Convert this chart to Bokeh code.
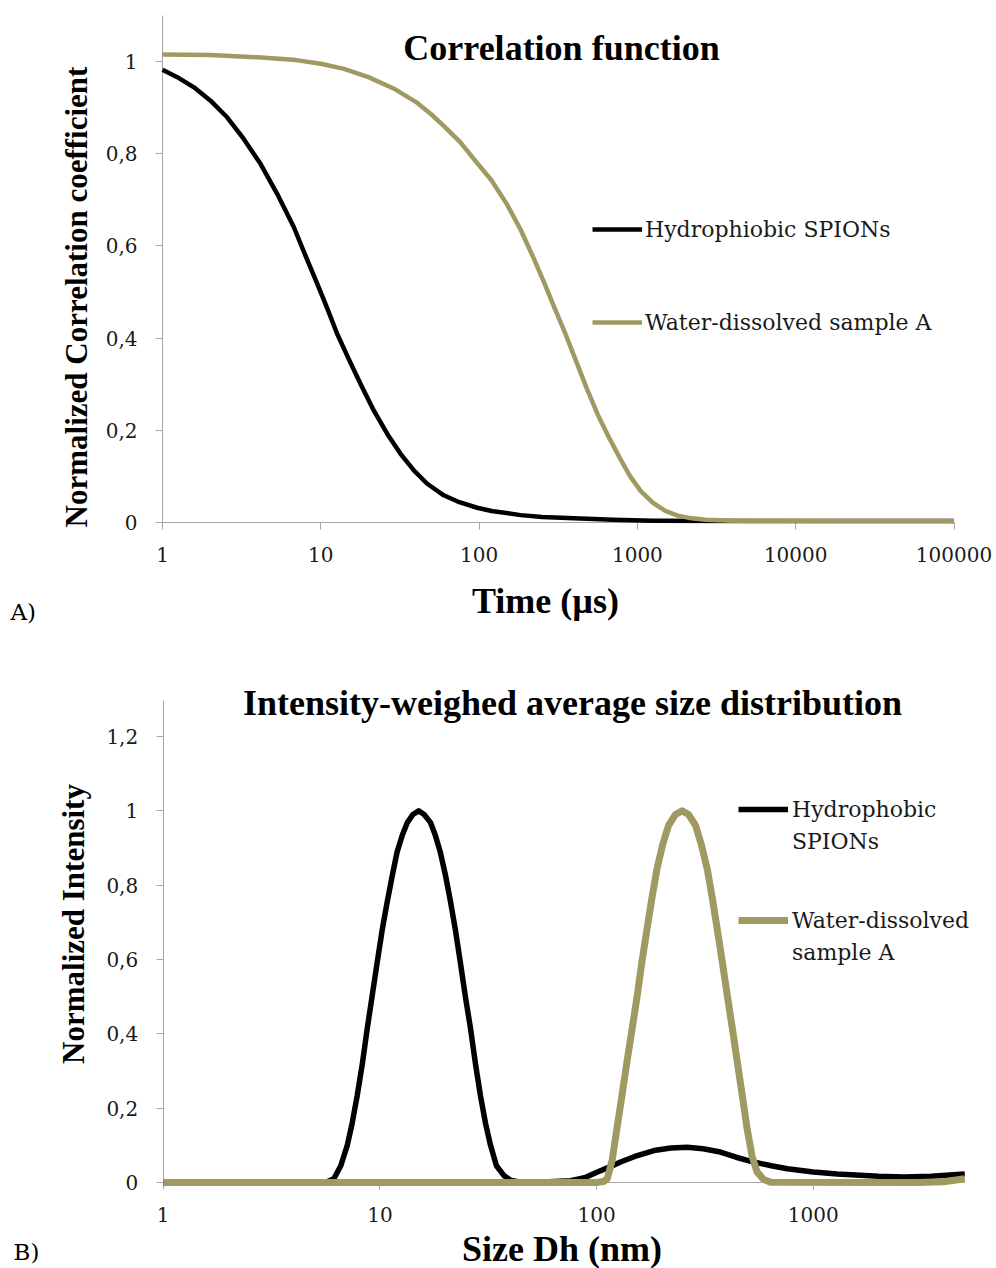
import math
from bokeh.plotting import figure
from bokeh.layouts import column
from bokeh.models import (Label, Legend, LegendItem, FixedTicker, NumeralTickFormatter,
                          CustomJSTickFormatter, Range1d, LogAxis, LinearAxis)
from bokeh.embed import file_html
from bokeh.resources import INLINE

# ---------------- data ----------------
# Panel A: correlation function
time_hydrophobic = [1, 1.24, 1.58, 2.01, 2.56, 3.26, 4.16, 5.3, 6.75, 8.0, 9.49, 11, 12.7, 15,
                    17.8, 21.6, 26.3, 31.9, 38.7, 47, 59.8, 75, 97.3, 120, 183, 250, 480, 700,
                    1260, 5000, 100000]
corr_hydrophobic = [0.982, 0.966, 0.944, 0.915, 0.879, 0.832, 0.778, 0.713, 0.641, 0.579, 0.518,
                    0.464, 0.409, 0.355, 0.301, 0.243, 0.192, 0.149, 0.113, 0.084, 0.059, 0.044,
                    0.032, 0.025, 0.016, 0.012, 0.008, 0.006, 0.004, 0.003, 0.003]
time_water = [1, 2, 4, 7, 10, 14, 20, 29, 40, 50, 60, 76, 97, 120, 150, 183, 220, 260, 300,
              350, 410, 480, 560, 660, 780, 900, 1050, 1250, 1500, 1800, 2200, 2700, 4000, 100000]
corr_water = [1.015, 1.014, 1.009, 1.003, 0.995, 0.984, 0.966, 0.941, 0.912, 0.885, 0.86, 0.825,
              0.78, 0.742, 0.69, 0.635, 0.575, 0.517, 0.465, 0.41, 0.35, 0.29, 0.235, 0.185,
              0.138, 0.10, 0.068, 0.043, 0.025, 0.015, 0.009, 0.006, 0.004, 0.003]
time_ticks = [1, 10, 100, 1000, 10000, 100000]
corr_ticks = [0, 0.2, 0.4, 0.6, 0.8, 1.0]
corr_axis_top = 1.1

# Panel B: intensity-weighted size distribution
size_hydrophobic = [1, 5.6, 6.13, 6.6, 7.07, 7.45, 7.86, 8.3, 8.74, 9.2, 9.72, 10.25, 10.8, 11.4,
                    12.0, 12.7, 13.4, 14.2, 15.1, 16.0, 17.1, 18.0, 19.0, 20.1, 21.2, 22.3, 23.5,
                    24.8, 26.2, 27.6, 29.1, 30.7, 32.4, 34.5, 37.3, 40, 44.5, 60, 75.9, 88, 101,
                    115, 129, 150, 184, 220, 262, 310, 373, 440, 531, 640, 758, 1000, 1290, 2000,
                    2620, 3500, 5000]
int_hydrophobic = [0, 0, 0.01, 0.045, 0.10, 0.16, 0.234, 0.32, 0.414, 0.50, 0.593, 0.68, 0.754,
                   0.825, 0.889, 0.935, 0.969, 0.99, 1.0, 0.99, 0.969, 0.935, 0.889, 0.825, 0.754,
                   0.68, 0.593, 0.50, 0.414, 0.32, 0.234, 0.16, 0.10, 0.045, 0.019, 0.006, 0.001,
                   0.002, 0.005, 0.013, 0.028, 0.042, 0.055, 0.07, 0.086, 0.093, 0.095, 0.091,
                   0.082, 0.068, 0.055, 0.045, 0.037, 0.028, 0.023, 0.017, 0.015, 0.017, 0.023]
size_water = [1, 100, 108, 112, 118, 124, 131, 138, 146, 154, 162, 171, 180, 190, 202, 215, 231,
              248, 266, 286, 304, 324, 342, 360, 380, 401, 423, 446, 470, 495, 522, 551, 590, 635,
              3000, 4000, 5000]
int_water = [0, 0, 0.003, 0.01, 0.06, 0.144, 0.235, 0.324, 0.415, 0.503, 0.595, 0.683, 0.765,
             0.844, 0.91, 0.961, 0.99, 1.0, 0.99, 0.961, 0.91, 0.844, 0.765, 0.683, 0.595, 0.503,
             0.415, 0.324, 0.235, 0.144, 0.07, 0.028, 0.008, 0.001, 0, 0.002, 0.01]
size_ticks = [1, 10, 100, 1000]
int_ticks = [0, 0.2, 0.4, 0.6, 0.8, 1.0, 1.2]
int_axis_top = 1.297
size_axis_end = 5000

# ---------------- layout constants (pixels) ----------------
W, H = 996, 634
A_X0, A_DEC = 162.0, 158.3      # x pixel of 1, pixels per decade
A_Y0, A_UNIT = 112.0, 461.0     # pixel (from bottom) of 0, pixels per unit
B_X0, B_DEC = 162.7, 216.7
B_Y0, B_UNIT = 86.0, 371.67

OLIVE = "#A09A62"
AXIS_GRAY = "#A6A6A6"
BOLD_FONT = "Liberation Serif"
REG_FONT = "DejaVu Serif"


def comma_fmt():
    return CustomJSTickFormatter(code="return String(Math.round(tick*10)/10).replace('.', ',');")


def axstyle(ax):
    ax.axis_line_color = AXIS_GRAY
    ax.major_tick_line_color = AXIS_GRAY
    ax.major_tick_out = 7
    ax.major_tick_in = 0
    ax.minor_tick_line_color = None
    ax.major_label_text_font = REG_FONT
    ax.major_label_text_font_size = "20px"
    ax.major_label_text_color = "#1a1a1a"
    ax.level = "underlay"


def make_fig(x0, dec, y0, unit):
    p = figure(width=W, height=H, x_axis_type="log", x_axis_location=None, y_axis_location=None,
               x_range=Range1d(10 ** (-x0 / dec), 10 ** ((W - x0) / dec)),
               y_range=Range1d(-y0 / unit, (H - y0) / unit),
               output_backend="svg", toolbar_location=None, min_border=0)
    p.outline_line_color = None
    p.xgrid.visible = False
    p.ygrid.visible = False
    p.background_fill_color = "white"
    p.border_fill_color = "white"
    return p


def add_axes(p, xticks, xbounds, yticks, ybounds, xstand):
    xa = LogAxis(fixed_location=0, bounds=xbounds, ticker=FixedTicker(ticks=xticks),
                 formatter=NumeralTickFormatter(format="0"))
    axstyle(xa)
    xa.major_label_standoff = xstand
    ya = LinearAxis(fixed_location=1, bounds=ybounds, ticker=FixedTicker(ticks=yticks),
                    formatter=comma_fmt())
    axstyle(ya)
    ya.major_label_standoff = 18
    p.add_layout(xa, "below")
    p.add_layout(ya, "left")


def lab(p, text, x, y, size, bold=True, align="center", angle=0.0):
    p.add_layout(Label(x=x, y=y, x_units="screen", y_units="screen", text=text,
                       text_font=BOLD_FONT if bold else REG_FONT,
                       text_font_style="bold" if bold else "normal",
                       text_font_size=size, text_color="black", text_align=align,
                       text_baseline="alphabetic", angle=angle))


# ---------------- Panel A ----------------
p1 = make_fig(A_X0, A_DEC, A_Y0, A_UNIT)
add_axes(p1, time_ticks, (time_ticks[0], time_ticks[-1]), corr_ticks, (0, corr_axis_top), 17)
r1 = p1.line(time_hydrophobic, corr_hydrophobic, line_color="black", line_width=4.5,
             line_join="round")
r2 = p1.line(time_water, corr_water, line_color=OLIVE, line_width=4.5, line_join="round")
leg1 = Legend(items=[LegendItem(label="Hydrophiobic SPIONs", renderers=[r1]),
                     LegendItem(label="Water-dissolved sample A", renderers=[r2])],
              location=(592, 297), spacing=63, label_height=30, glyph_height=20, glyph_width=50,
              label_standoff=3, padding=0, margin=0, border_line_alpha=0,
              background_fill_alpha=0, label_text_font=REG_FONT, label_text_font_size="22px",
              label_text_color="#1a1a1a")
p1.add_layout(leg1)
lab(p1, "Correlation function", 561, 587, "36px")
lab(p1, "Time (µs)", 545, 34, "36px")
lab(p1, "Normalized Correlation coefficient", 76, 337.5, "31px", angle=math.pi / 2)
lab(p1, "A)", 10, 23, "23px", bold=False, align="left")

# ---------------- Panel B ----------------
p2 = make_fig(B_X0, B_DEC, B_Y0, B_UNIT)
add_axes(p2, size_ticks, (size_ticks[0], size_axis_end), int_ticks, (0, int_axis_top), 17)
s1 = p2.line(size_hydrophobic, int_hydrophobic, line_color="black", line_width=5.5,
             line_join="round")
s2 = p2.line(size_water, int_water, line_color=OLIVE, line_width=7, line_join="round")
d1 = p2.line([], [], line_alpha=0)
d2 = p2.line([], [], line_alpha=0)
common = dict(spacing=0, label_height=32, glyph_height=20, glyph_width=50, label_standoff=4,
              padding=0, margin=0, border_line_alpha=0, background_fill_alpha=0,
              label_text_font=REG_FONT, label_text_font_size="22px", label_text_color="#1a1a1a")
leg2 = Legend(items=[LegendItem(label="Hydrophobic", renderers=[s1]),
                     LegendItem(label="SPIONs", renderers=[d1])],
              location=(738, 411), **common)
leg3 = Legend(items=[LegendItem(label="Water-dissolved", renderers=[s2]),
                     LegendItem(label="sample A", renderers=[d2])],
              location=(738, 300), **common)
p2.add_layout(leg2)
p2.add_layout(leg3)
lab(p2, "Intensity-weighed average size distribution", 572, 566, "36px")
lab(p2, "Size Dh (nm)", 561.5, 20, "36px")
lab(p2, "Normalized Intensity", 73, 344.5, "31px", angle=math.pi / 2)
lab(p2, "B)", 13, 17, "23px", bold=False, align="left")

layout = column(p1, p2)
open("out.html", "w").write(file_html(layout, INLINE))
